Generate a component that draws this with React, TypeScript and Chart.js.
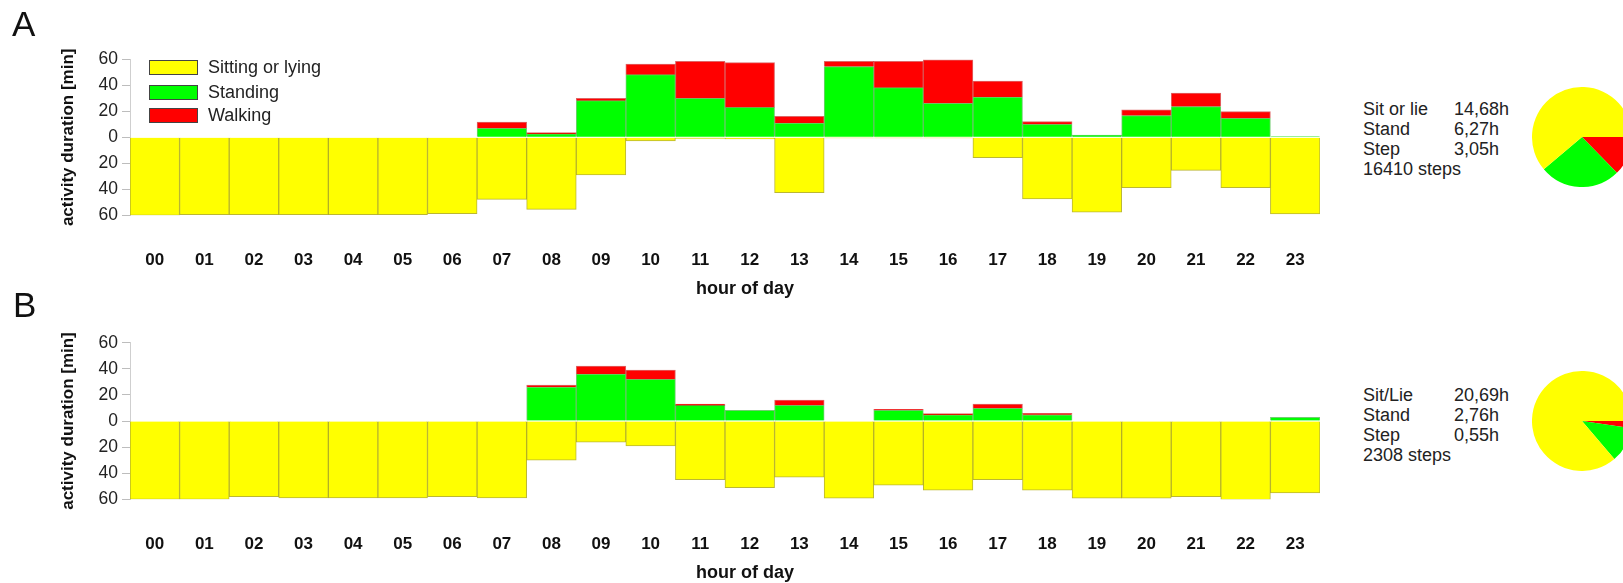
import React, { useEffect, useRef } from 'react';
import { Chart, registerables } from 'chart.js';

Chart.register(...registerables);

// ---------- data ----------
const hours = ['00', '01', '02', '03', '04', '05', '06', '07', '08', '09', '10', '11',
  '12', '13', '14', '15', '16', '17', '18', '19', '20', '21', '22', '23'];

// Panel A (minutes per hour)
const sitA = [60, 59.5, 59.5, 59.5, 59.5, 59.5, 58.7, 47.7, 55.5, 29, 2.8, 0.8,
  1.2, 42.6, 0.5, 0.5, 0.5, 15.6, 47.4, 57.5, 38.7, 25.4, 38.7, 59];
const standA = [0, 0, 0, 0, 0, 0, 0, 6.9, 2.6, 28.2, 48.2, 30,
  23, 11, 54.4, 38.2, 26.2, 31, 10, 1.8, 16.7, 23.6, 14.6, 0.5];
const walkA = [0, 0, 0, 0, 0, 0, 0, 4.9, 1, 1.8, 8.2, 28.5,
  34.4, 5.1, 4.1, 20.3, 33.3, 12.3, 2, 0, 4.4, 10.5, 5.1, 0];

// Panel B (minutes per hour)
const sitB = [60, 60, 58, 59, 59, 59, 58, 59, 30, 16.3, 19.1, 44.9,
  51, 43.1, 59.2, 49.2, 53, 44.9, 53, 59.2, 59.2, 58, 60.2, 55.1];
const standB = [0, 0, 0, 0, 0, 0, 0, 0, 26, 36, 31.9, 12,
  8.2, 12, 0, 8.2, 4.8, 9.7, 4.8, 0, 0, 0, 0, 2.8];
const walkB = [0, 0, 0, 0, 0, 0, 0, 0, 1.6, 6.1, 7.1, 1,
  0, 4.1, 0, 0.8, 0.8, 3.3, 1, 0, 0, 0, 0, 0];

// Daily totals (hours): step, stand, sit
const pieA = [3.05, 6.27, 14.68];
const pieB = [0.55, 2.76, 20.69];

const legendLabels = ['Sitting or lying', 'Standing', 'Walking'];
const summaryA = [['Sit or lie', '14,68h'], ['Stand', '6,27h'], ['Step', '3,05h']];
const stepsA = '16410 steps';
const summaryB = [['Sit/Lie', '20,69h'], ['Stand', '2,76h'], ['Step', '0,55h']];
const stepsB = '2308 steps';

// ---------- styles ----------
const FONT = '"Liberation Sans", Arial, Helvetica, sans-serif';
const YELLOW = '#ffff00';
const GREEN = '#00ff00';
const RED = '#ff0000';
const legendColors = [YELLOW, GREEN, RED];

const CANVAS_W = 1340;
const AREA_LEFT = 130;
const AREA_RIGHT = 1323;
const PAD_LEFT = 58;

function makeBar(canvas: HTMLCanvasElement, sit: number[], stand: number[], walk: number[],
  canvasH: number, chartTop: number, chartBottom: number) {
  return new Chart(canvas, {
    type: 'bar',
    data: {
      labels: hours,
      datasets: [
        {
          label: legendLabels[0], data: sit.map((v) => -v), backgroundColor: YELLOW,
          borderColor: 'rgba(170,165,0,0.8)', borderWidth: 1,
        },
        {
          label: legendLabels[1], data: stand, backgroundColor: GREEN,
          borderColor: 'rgba(20,170,20,0.6)', borderWidth: 1,
        },
        {
          label: legendLabels[2], data: walk, backgroundColor: RED,
          borderColor: 'rgba(200,0,0,0.6)', borderWidth: 1,
        },
      ],
    },
    options: {
      responsive: false,
      maintainAspectRatio: false,
      animation: false,
      layout: { padding: { left: PAD_LEFT, right: CANVAS_W - AREA_RIGHT, top: chartTop, bottom: 0 } },
      datasets: { bar: { categoryPercentage: 1, barPercentage: 1 } },
      plugins: { legend: { display: false }, tooltip: { enabled: false }, title: { display: false } },
      scales: {
        x: {
          stacked: true,
          grid: { display: false, drawTicks: false },
          border: { display: false },
          ticks: {
            autoSkip: false, maxRotation: 0, padding: 35, color: '#111',
            font: { family: FONT, size: 17, weight: 'bold' },
          },
          afterFit: (s: any) => { s.height = canvasH - chartBottom; },
        },
        y: {
          stacked: true,
          min: -60,
          max: 60,
          ticks: {
            stepSize: 10,
            padding: 4,
            color: '#222',
            font: { family: FONT, size: 17.5 },
            callback: (v: any) => (Number(v) % 20 === 0 ? String(Math.abs(Number(v))) : ''),
          },
          grid: { drawOnChartArea: false, drawTicks: true, tickLength: 8, color: '#bdbdbd' },
          border: { display: true, color: '#cfcfcf' },
          title: {
            display: true, text: 'activity duration [min]', color: '#111',
            font: { family: FONT, size: 17, weight: 'bold' }, padding: { top: 0, bottom: 0 },
          },
          afterFit: (s: any) => { s.width = AREA_LEFT - PAD_LEFT; },
        },
      },
    },
  } as any);
}

function makePie(canvas: HTMLCanvasElement, values: number[]) {
  return new Chart(canvas, {
    type: 'pie',
    data: {
      labels: ['Step', 'Stand', 'Sit'],
      datasets: [{ data: values, backgroundColor: [RED, GREEN, YELLOW], borderWidth: 0 }],
    },
    options: {
      responsive: false,
      maintainAspectRatio: false,
      animation: false,
      rotation: 90,
      layout: { padding: 0 },
      plugins: { legend: { display: false }, tooltip: { enabled: false } },
    },
  } as any);
}

const abs = (o: React.CSSProperties): React.CSSProperties => ({ position: 'absolute', ...o });

function Summary({ rows, steps, top }: { rows: string[][]; steps: string; top: number }) {
  return (
    <div style={abs({ left: 1363, top, fontSize: 18, lineHeight: '20px', color: '#222', whiteSpace: 'nowrap' })}>
      {rows.map((r) => (
        <div key={r[0]} style={{ display: 'flex' }}>
          <span style={{ width: 91, display: 'inline-block' }}>{r[0]}</span>
          <span>{r[1]}</span>
        </div>
      ))}
      <div>{steps}</div>
    </div>
  );
}

export default function App() {
  const barA = useRef<HTMLCanvasElement>(null);
  const barB = useRef<HTMLCanvasElement>(null);
  const pA = useRef<HTMLCanvasElement>(null);
  const pB = useRef<HTMLCanvasElement>(null);

  useEffect(() => {
    const charts = [
      makeBar(barA.current!, sitA, standA, walkA, 280, 59.3, 215.3),
      makeBar(barB.current!, sitB, standB, walkB, 290, 62.7, 219.3),
      makePie(pA.current!, pieA),
      makePie(pB.current!, pieB),
    ];
    return () => charts.forEach((c) => c.destroy());
  }, []);

  return (
    <div style={{
      position: 'fixed', left: 0, top: 0, width: 1623, height: 583, overflow: 'hidden',
      background: '#fff', fontFamily: FONT, color: '#111',
    }}>
      <canvas ref={barA} width={CANVAS_W} height={280} style={abs({ left: 0, top: 0, width: CANVAS_W, height: 280 })} />
      <canvas ref={barB} width={CANVAS_W} height={290} style={abs({ left: 0, top: 280, width: CANVAS_W, height: 290 })} />
      <canvas ref={pA} width={100} height={100} style={abs({ left: 1532, top: 87, width: 100, height: 100 })} />
      <canvas ref={pB} width={100} height={100} style={abs({ left: 1532, top: 371, width: 100, height: 100 })} />

      <div style={abs({ left: 12, top: 6, fontSize: 35, lineHeight: '35px' })}>A</div>
      <div style={abs({ left: 13, top: 287, fontSize: 35, lineHeight: '35px' })}>B</div>

      {legendLabels.map((l, i) => (
        <div key={l} style={abs({ left: 149, top: [60, 84.5, 108][i], height: 15, display: 'flex', alignItems: 'center' })}>
          <div style={{ width: 47, height: 13, background: legendColors[i], border: '1px solid #444' }} />
          <span style={{ marginLeft: 10, fontSize: 18, lineHeight: '15px', color: '#222' }}>{l}</span>
        </div>
      ))}

      <div style={abs({ left: 645, width: 200, top: 278, textAlign: 'center', fontSize: 18, fontWeight: 'bold', lineHeight: '20px' })}>hour of day</div>
      <div style={abs({ left: 645, width: 200, top: 562, textAlign: 'center', fontSize: 18, fontWeight: 'bold', lineHeight: '20px' })}>hour of day</div>

      <Summary rows={summaryA} steps={stepsA} top={99} />
      <Summary rows={summaryB} steps={stepsB} top={385} />
    </div>
  );
}
